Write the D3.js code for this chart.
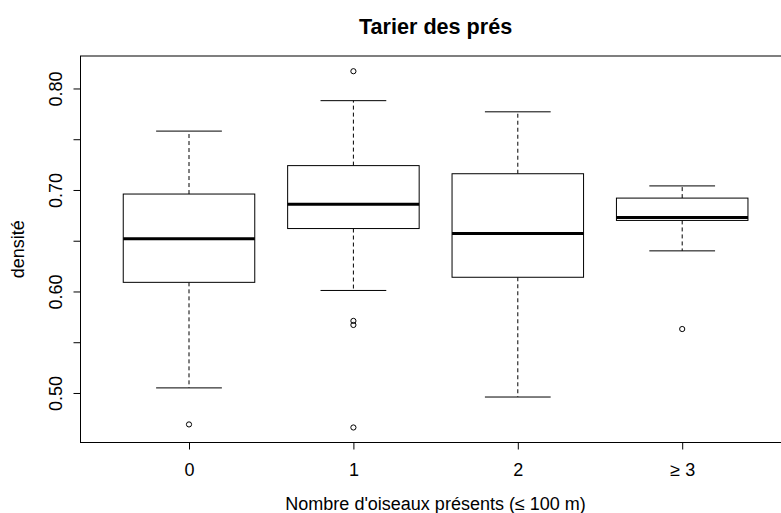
<!DOCTYPE html>
<html>
<head>
<meta charset="utf-8">
<script src="https://cdn.jsdelivr.net/npm/d3@7"></script>
<style>
  html, body { margin: 0; padding: 0; background: #fff; }
  svg { display: block; }
  text { font-family: "Liberation Sans", Arial, sans-serif; fill: #000; }
</style>
</head>
<body>
<svg id="chart" width="781" height="513"></svg>
<script>
// Group labels (number of birds present within 100 m)
const categories = ["0", "1", "2", "≥ 3"];
// Five-number summaries per group
const whiskerLow  = [0.505, 0.601, 0.496, 0.640];
const q1          = [0.609, 0.662, 0.614, 0.670];
const median      = [0.652, 0.686, 0.657, 0.673];
const q3          = [0.696, 0.724, 0.716, 0.692];
const whiskerHigh = [0.758, 0.788, 0.777, 0.704];
// Points beyond the whiskers, by group index
const outliers = [
  [0.469],
  [0.817, 0.571, 0.567, 0.466],
  [],
  [0.563]
];
// Y axis ticks: every 0.05, labelled every 0.10
const yTicks = [0.50, 0.55, 0.60, 0.65, 0.70, 0.75, 0.80];
const yLabelled = [0.50, 0.60, 0.70, 0.80];

const title = "Tarier des prés";
const xTitle = "Nombre d'oiseaux présents (≤ 100 m)";
const yTitle = "densité";

const svg = d3.select("#chart");

// Plot region
const plotLeft = 80.5, plotRight = 790.7, plotTop = 56, plotBottom = 442.5;
const axisFont = 18, titleFont = 21.6;

const x = d3.scaleLinear().domain([0.34, 4.66]).range([plotLeft, plotRight]);
const y = d3.scaleLinear().domain([0.4512, 0.832]).range([plotBottom, plotTop]);

const boxHalf = 0.4;      // half of box width, in group units
const capHalf = 0.2;      // half of whisker cap width

const g = svg.append("g");

// Boxes
categories.forEach((c, i) => {
  const cx = x(i + 1);
  const grp = g.append("g").attr("class", "box");
  // dashed whiskers
  grp.append("line")
    .attr("x1", cx).attr("x2", cx)
    .attr("y1", y(q3[i])).attr("y2", y(whiskerHigh[i]))
    .attr("stroke", "#000").attr("stroke-width", 1)
    .attr("stroke-dasharray", "4,3");
  grp.append("line")
    .attr("x1", cx).attr("x2", cx)
    .attr("y1", y(q1[i])).attr("y2", y(whiskerLow[i]))
    .attr("stroke", "#000").attr("stroke-width", 1)
    .attr("stroke-dasharray", "4,3");
  // caps
  [whiskerLow[i], whiskerHigh[i]].forEach(v => {
    grp.append("line")
      .attr("x1", x(i + 1 - capHalf)).attr("x2", x(i + 1 + capHalf))
      .attr("y1", y(v)).attr("y2", y(v))
      .attr("stroke", "#000").attr("stroke-width", 1);
  });
  // box
  grp.append("rect")
    .attr("x", x(i + 1 - boxHalf))
    .attr("y", y(q3[i]))
    .attr("width", x(i + 1 + boxHalf) - x(i + 1 - boxHalf))
    .attr("height", y(q1[i]) - y(q3[i]))
    .attr("fill", "#fff")
    .attr("stroke", "#000").attr("stroke-width", 1);
  // median
  grp.append("line")
    .attr("x1", x(i + 1 - boxHalf)).attr("x2", x(i + 1 + boxHalf))
    .attr("y1", y(median[i])).attr("y2", y(median[i]))
    .attr("stroke", "#000").attr("stroke-width", 3);
  // outliers
  grp.selectAll("circle")
    .data(outliers[i])
    .join("circle")
    .attr("cx", cx)
    .attr("cy", d => y(d))
    .attr("r", 2.6)
    .attr("fill", "none")
    .attr("stroke", "#000").attr("stroke-width", 1);
});

// Frame
svg.append("rect")
  .attr("x", plotLeft).attr("y", plotTop)
  .attr("width", plotRight - plotLeft).attr("height", plotBottom - plotTop)
  .attr("fill", "none").attr("stroke", "#000").attr("stroke-width", 1);

// Y axis
const yAxis = d3.axisLeft(y)
  .tickValues(yTicks)
  .tickSize(7)
  .tickFormat(d => yLabelled.some(v => Math.abs(v - d) < 1e-9) ? d3.format(".2f")(d) : "");
const ya = svg.append("g")
  .attr("transform", `translate(${plotLeft},0)`)
  .call(yAxis);
ya.select(".domain").remove();
ya.selectAll(".tick line").attr("stroke", "#000");
ya.selectAll(".tick text")
  .attr("font-size", axisFont)
  .attr("text-anchor", "middle")
  .attr("x", null).attr("dy", null)
  .attr("transform", "translate(-18.5,0) rotate(-90)");

// X axis
const xAxis = d3.axisBottom(x)
  .tickValues([1, 2, 3, 4])
  .tickSize(7)
  .tickPadding(14)
  .tickFormat((d, i) => categories[i]);
const xa = svg.append("g")
  .attr("transform", `translate(0,${plotBottom})`)
  .call(xAxis);
xa.select(".domain").remove();
xa.selectAll(".tick line").attr("stroke", "#000");
xa.selectAll(".tick text").attr("font-size", axisFont);

// Titles
svg.append("text")
  .attr("x", (plotLeft + plotRight) / 2).attr("y", 33.5)
  .attr("text-anchor", "middle")
  .attr("font-size", titleFont).attr("font-weight", "bold")
  .text(title);

svg.append("text")
  .attr("x", (plotLeft + plotRight) / 2).attr("y", 509.5)
  .attr("text-anchor", "middle")
  .attr("font-size", axisFont)
  .text(xTitle);

svg.append("text")
  .attr("transform", `translate(24,${(plotTop + plotBottom) / 2}) rotate(-90)`)
  .attr("text-anchor", "middle")
  .attr("font-size", axisFont)
  .text(yTitle);
</script>
</body>
</html>
